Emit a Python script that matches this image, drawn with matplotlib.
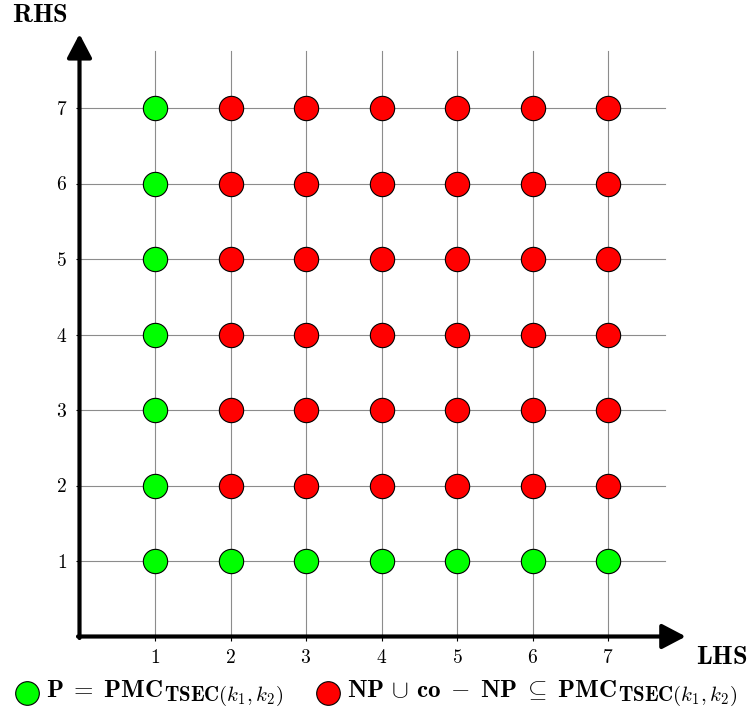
import matplotlib
matplotlib.use("Agg")
import matplotlib.pyplot as plt

plt.rcParams['mathtext.fontset'] = 'cm'
plt.rcParams['font.family'] = ['DejaVu Serif']

ticks = [1, 2, 3, 4, 5, 6, 7]
tick_labels = ['1', '2', '3', '4', '5', '6', '7']

# P = PMC (green): LHS = 1 or RHS = 1
green_x = [1, 1, 1, 1, 1, 1, 1, 2, 3, 4, 5, 6, 7]
green_y = [1, 2, 3, 4, 5, 6, 7, 1, 1, 1, 1, 1, 1]
# NP ∪ co-NP ⊆ PMC (red)
red_x = [2, 3, 4, 5, 6, 7] * 6
red_y = [y for y in [2, 3, 4, 5, 6, 7] for _ in range(6)]

xlabel = r'$\mathbf{LHS}$'
ylabel = r'$\mathbf{RHS}$'
legend_green_main = r'$\mathbf{P}\;=\;\mathbf{PMC}$'
legend_red_main = r'$\mathbf{NP}\,\cup\,\mathbf{co}\;-\;\mathbf{NP}\;\subseteq\;\mathbf{PMC}$'
legend_sub = r'$\mathbf{TSEC}(k_1,k_2)$'

W, H = 750, 715
fig = plt.figure(figsize=(W / 100, H / 100), dpi=100)
unit = 75.5
x0px, y0px = 79.5, 636.5
lim = 8.2
ax = fig.add_axes([x0px / W, (H - y0px) / H, lim * unit / W, lim * unit / H])
ax.set_xlim(0, lim)
ax.set_ylim(0, lim)
for s in ax.spines.values():
    s.set_visible(False)

# grid lines
gmax = 7.75
for t in ticks:
    ax.plot([0, gmax], [t, t], color='#8c8c8c', lw=0.8, zorder=1)
    ax.plot([t, t], [0, gmax], color='#8c8c8c', lw=0.8, zorder=1)

# axes arrows
arrow = dict(arrowstyle='-|>,head_length=0.8,head_width=0.42', lw=3, color='black',
             shrinkA=0, shrinkB=0, mutation_scale=18)
ax.annotate('', xy=(8.03, 0), xytext=(-0.02, 0), arrowprops=arrow, annotation_clip=False, zorder=3)
ax.annotate('', xy=(0, 7.98), xytext=(0, -0.02), arrowprops=arrow, annotation_clip=False, zorder=3)

ms = 17.5
ax.plot(green_x, green_y, 'o', ms=ms, mfc='#00ff00', mec='black', mew=0.8, zorder=4, clip_on=False)
ax.plot(red_x, red_y, 'o', ms=ms, mfc='#ff0000', mec='black', mew=0.8, zorder=4, clip_on=False)

ax.set_xticks(ticks)
ax.set_xticklabels(['$%s$' % t for t in tick_labels])
ax.set_yticks(ticks)
ax.set_yticklabels(['$%s$' % t for t in tick_labels])
ax.tick_params(length=3, width=0.8, direction='out', labelsize=14, pad=6)

fig.text(722 / W, 1 - 657 / H, xlabel, ha='center', va='center', fontsize=19)
fig.text(40 / W, 1 - 15 / H, ylabel, ha='center', va='center', fontsize=19)

# legend
renderer = fig.canvas.get_renderer()
base_y = 697


def legend_entry(cx, tx, color, main):
    fig.lines.append(plt.Line2D([cx / W], [1 - 693 / H], marker='o', ms=17, mfc=color, mec='black',
                                mew=0.8, transform=fig.transFigure, figure=fig))
    t = fig.text(tx / W, 1 - base_y / H, main, ha='left', va='baseline', fontsize=18)
    bb = t.get_window_extent(renderer)
    fig.text((bb.x1 + 1) / W, 1 - (base_y + 4) / H, legend_sub, ha='left', va='baseline',
             fontsize=15)


legend_entry(27, 46, '#00ff00', legend_green_main)
legend_entry(328, 347, '#ff0000', legend_red_main)

fig.savefig('out.png', dpi=100)
